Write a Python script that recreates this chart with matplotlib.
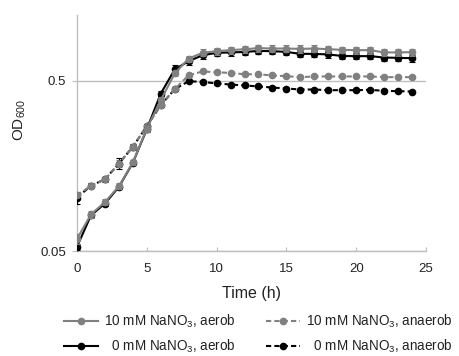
import matplotlib
matplotlib.use("Agg")
import matplotlib.pyplot as plt
from matplotlib.lines import Line2D
import numpy as np

plt.rcParams['font.family'] = ['Liberation Sans', 'DejaVu Sans']
plt.rcParams['mathtext.fontset'] = 'custom'
plt.rcParams['mathtext.rm'] = 'Liberation Sans'
plt.rcParams['mathtext.it'] = 'Liberation Sans:italic'
plt.rcParams['mathtext.default'] = 'regular'

time_h = list(range(0, 25))

od_10_aerob = [0.059, 0.082, 0.097, 0.120, 0.166, 0.262, 0.385, 0.553, 0.677, 0.731,
               0.748, 0.758, 0.768, 0.779, 0.775, 0.775, 0.771, 0.775, 0.768, 0.761,
               0.758, 0.758, 0.735, 0.735, 0.738]
err_10_aerob = [0.004, 0.004, 0.004, 0.005, 0.006, 0.010, 0.015, 0.020, 0.028, 0.035,
                0.035, 0.035, 0.035, 0.037, 0.037, 0.037, 0.037, 0.035, 0.035, 0.035,
                0.035, 0.035, 0.035, 0.035, 0.035]

od_0_aerob = [0.053, 0.081, 0.095, 0.119, 0.165, 0.260, 0.421, 0.584, 0.653, 0.708,
              0.731, 0.735, 0.740, 0.750, 0.748, 0.740, 0.721, 0.721, 0.715, 0.701,
              0.699, 0.699, 0.686, 0.683, 0.680]
err_0_aerob = [0.002, 0.003, 0.003, 0.004, 0.005, 0.008, 0.015, 0.035, 0.035, 0.035,
               0.035, 0.033, 0.033, 0.033, 0.033, 0.033, 0.031, 0.031, 0.031, 0.031,
               0.031, 0.031, 0.031, 0.031, 0.031]

od_10_anaerob = [0.106, 0.121, 0.132, 0.163, 0.205, 0.271, 0.360, 0.447, 0.540, 0.568,
                 0.562, 0.557, 0.547, 0.547, 0.538, 0.533, 0.526, 0.531, 0.531, 0.531,
                 0.531, 0.531, 0.526, 0.526, 0.526]
err_10_anaerob = [0.004, 0.004, 0.005, 0.008, 0.008, 0.008, 0.008, 0.008, 0.008, 0.006,
                  0.006, 0.006, 0.006, 0.006, 0.006, 0.006, 0.006, 0.006, 0.006, 0.006,
                  0.006, 0.006, 0.006, 0.006, 0.006]

od_0_anaerob = [0.103, 0.121, 0.132, 0.163, 0.205, 0.271, 0.360, 0.447, 0.498, 0.493,
                0.483, 0.476, 0.470, 0.464, 0.457, 0.451, 0.445, 0.445, 0.441, 0.441,
                0.441, 0.443, 0.437, 0.435, 0.433]
err_0_anaerob = [0.008, 0.004, 0.004, 0.012, 0.008, 0.008, 0.008, 0.006, 0.005, 0.005,
                 0.005, 0.005, 0.005, 0.005, 0.005, 0.005, 0.005, 0.005, 0.005, 0.005,
                 0.005, 0.005, 0.005, 0.005, 0.005]

labels = ["10 mM NaNO$_3$, aerob", "  0 mM NaNO$_3$, aerob",
          "10 mM NaNO$_3$, anaerob", "  0 mM NaNO$_3$, anaerob"]
y_ticks = [0.05, 0.5]
y_ticklabels = ["0.05", "0.5"]
x_ticks = [0, 5, 10, 15, 20, 25]

GRAY = '#808080'
AXGRAY = '#bfbfbf'
TXT = '#222222'

fig = plt.figure(figsize=(4.59, 3.56), dpi=100)
ax = fig.add_axes([77/459, 1-251/356, (426-77)/459, (251-15)/356])

ms = 4.5
lw = 1.5
dash = (0, (2.5, 1.5))
ekw = dict(capsize=2.3, elinewidth=0.8, capthick=0.8)

ax.errorbar(time_h, od_0_anaerob, yerr=err_0_anaerob, color='black', lw=lw,
            ls=dash, marker='o', ms=ms, ecolor='black', zorder=3, **ekw)
ax.errorbar(time_h, od_10_anaerob, yerr=err_10_anaerob, color=GRAY, lw=lw,
            ls=dash, marker='o', ms=ms, ecolor=GRAY, zorder=3, **ekw)
ax.errorbar(time_h, od_0_aerob, yerr=err_0_aerob, color='black', lw=lw,
            ls='-', marker='o', ms=ms, ecolor='black', zorder=4, **ekw)
ax.errorbar(time_h, od_10_aerob, yerr=err_10_aerob, color=GRAY, lw=lw,
            ls='-', marker='o', ms=ms, ecolor=GRAY, zorder=5, **ekw)

ax.set_yscale('log')
ax.set_ylim(0.05, 1.22)
ax.set_xlim(0, 25)
ax.set_yticks(y_ticks)
ax.set_yticklabels(y_ticklabels)
ax.yaxis.set_minor_locator(matplotlib.ticker.NullLocator())
ax.set_xticks(x_ticks)
ax.set_xticklabels([str(t) for t in x_ticks])

ax.yaxis.grid(True, color=AXGRAY, lw=1.0)
ax.set_axisbelow(True)
for s in ['top', 'right']:
    ax.spines[s].set_visible(False)
for s in ['left', 'bottom']:
    ax.spines[s].set_color(AXGRAY)
    ax.spines[s].set_linewidth(1.0)

ax.tick_params(axis='y', direction='out', length=3.5, color=AXGRAY, labelsize=9.5,
               labelcolor=TXT, pad=4.5)
ax.tick_params(axis='x', direction='in', length=3, color=AXGRAY, labelsize=9.5,
               labelcolor=TXT, pad=8.5)

ax.set_xlabel("Time (h)", fontsize=11.5, color=TXT, labelpad=8)
fig.text(20/459, 1-120/356, "OD$_{600}$", fontsize=11, color=TXT, rotation=90,
         ha='center', va='center')

handles = [
    Line2D([], [], color=GRAY, lw=lw, ls='-', marker='o', ms=ms),
    Line2D([], [], color='black', lw=lw, ls='-', marker='o', ms=ms),
    Line2D([], [], color=GRAY, lw=lw, ls=dash, marker='o', ms=ms),
    Line2D([], [], color='black', lw=lw, ls=dash, marker='o', ms=ms),
]
leg = fig.legend(handles, labels, loc='center', ncol=2,
                 bbox_to_anchor=(0.563, 1-334/356), frameon=False, fontsize=9.75,
                 handlelength=2.5, handletextpad=0.5, columnspacing=2.2,
                 labelspacing=0.55, borderpad=0)
for t in leg.get_texts():
    t.set_color(TXT)

fig.savefig("out.png", dpi=100)
